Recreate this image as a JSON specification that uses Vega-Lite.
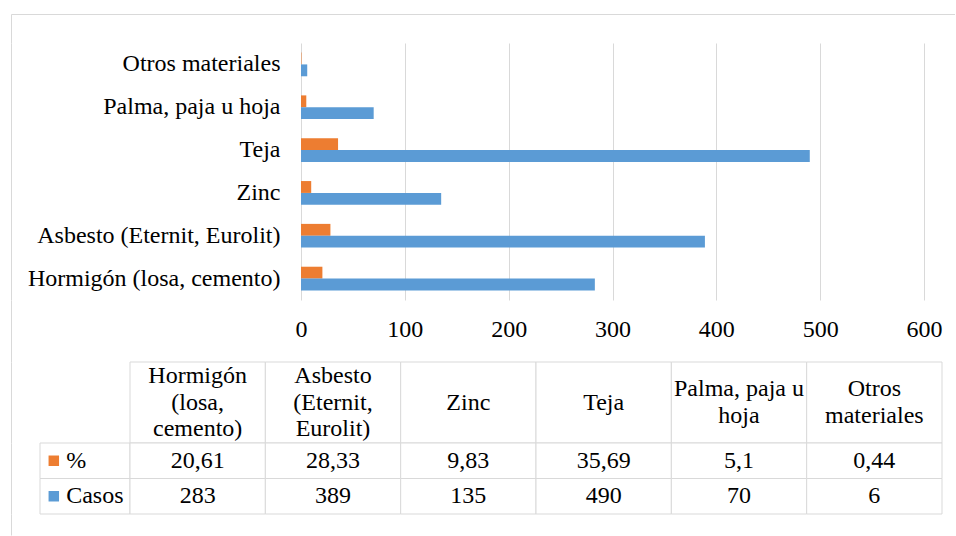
{
  "$schema": "https://vega.github.io/schema/vega-lite/v6.json",
  "padding": {"left": 8, "top": 14, "right": 0, "bottom": 0},
  "background": "white",
  "config": {
    "view": {"stroke": null},
    "locale": {"number": {"decimal": ",", "thousands": ".", "grouping": [3], "currency": ["", " €"]}},
    "axis": {"labelFont": "Liberation Serif, Times New Roman, serif", "labelFontSize": 24, "labelColor": "#000000", "domainColor": "#d9d9d9", "domainWidth": 1, "gridColor": "#d9d9d9", "gridWidth": 1},
    "text": {"font": "Liberation Serif, Times New Roman, serif", "fontSize": 24, "color": "#000000"}
  },
  "datasets": {
    "materiales": [
      {"material": "Hormigón (losa, cemento)", "encabezado": ["Hormigón", "(losa,", "cemento)"], "%": 20.61, "Casos": 283},
      {"material": "Asbesto (Eternit, Eurolit)", "encabezado": ["Asbesto", "(Eternit,", "Eurolit)"], "%": 28.33, "Casos": 389},
      {"material": "Zinc", "encabezado": ["Zinc"], "%": 9.83, "Casos": 135},
      {"material": "Teja", "encabezado": ["Teja"], "%": 35.69, "Casos": 490},
      {"material": "Palma, paja u hoja", "encabezado": ["Palma, paja u", "hoja"], "%": 5.1, "Casos": 70},
      {"material": "Otros materiales", "encabezado": ["Otros", "materiales"], "%": 0.44, "Casos": 6}
    ]
  },
  "bounds": "flush",
  "spacing": 0,
  "vconcat": [
    {
      "width": 944, "height": 29,
      "data": {"values": [{}]},
      "mark": {"type": "point", "opacity": 0},
      "encoding": {
        "x": {"datum": 0, "type": "quantitative", "scale": {"domain": [0, 1]}, "axis": {"orient": "top", "title": null, "labels": false, "ticks": false, "grid": false, "domain": true}},
        "y": {"datum": 0, "type": "quantitative", "scale": {"domain": [0, 1]}, "axis": {"orient": "left", "title": null, "labels": false, "ticks": false, "grid": false, "domain": true}}
      }
    },
    {
      "width": 944, "height": 257,
      "data": {"name": "materiales"},
      "transform": [{"fold": ["%", "Casos"], "as": ["serie", "valor"]}],
      "mark": {"type": "bar"},
      "encoding": {
        "y": {
          "field": "material", "type": "nominal",
          "sort": ["Otros materiales", "Palma, paja u hoja", "Teja", "Zinc", "Asbesto (Eternit, Eurolit)", "Hormigón (losa, cemento)"],
          "scale": {"paddingInner": 0.446, "paddingOuter": 0.223},
          "axis": {"orient": "left", "title": null, "ticks": false, "tickSize": 0, "domain": true, "grid": false, "labelAlign": "right", "labelPadding": -269, "labelLimit": 500}
        },
        "yOffset": {"field": "serie", "type": "nominal", "sort": ["%", "Casos"]},
        "x": {
          "field": "valor", "type": "quantitative",
          "scale": {"domain": [0, 600], "nice": false, "range": [290, 913]},
          "axis": {"title": null, "values": [0, 100, 200, 300, 400, 500, 600], "grid": true, "domain": false, "ticks": false, "tickSize": 0, "labelPadding": 17, "labelFlush": false, "labelOverlap": false}
        },
        "color": {"field": "serie", "type": "nominal", "scale": {"domain": ["%", "Casos"], "range": ["#ed7d31", "#5b9bd5"]}, "legend": null}
      }
    },
    {
      "width": 944, "height": 62,
      "data": {"values": [{}]},
      "mark": {"type": "point", "opacity": 0},
      "encoding": {
        "y": {"datum": 0, "type": "quantitative", "scale": {"domain": [0, 1]}, "axis": {"orient": "left", "title": null, "labels": false, "ticks": false, "grid": false, "domain": true}}
      }
    },
    {
      "width": 944, "height": 81,
      "data": {"name": "materiales"},
      "encoding": {
        "x": {"field": "material", "type": "nominal", "sort": null, "scale": {"range": [119, 931], "paddingInner": 0, "paddingOuter": 0}, "axis": null},
        "y": {"datum": "encabezado", "type": "nominal", "scale": {"domain": ["encabezado"], "paddingInner": 0, "paddingOuter": 0}, "axis": {"orient": "left", "title": null, "labels": false, "ticks": false, "grid": false, "domain": true}}
      },
      "layer": [
        {"mark": {"type": "rect", "fill": "white", "stroke": "#d9d9d9", "strokeWidth": 1}},
        {"transform": [{"filter": "length(datum.encabezado) == 3"}], "mark": {"type": "text", "baseline": "middle", "lineHeight": 26.5, "dy": -26.5}, "encoding": {"text": {"field": "encabezado", "type": "nominal"}}},
        {"transform": [{"filter": "length(datum.encabezado) == 2"}], "mark": {"type": "text", "baseline": "middle", "lineHeight": 26.5, "dy": -13.25}, "encoding": {"text": {"field": "encabezado", "type": "nominal"}}},
        {"transform": [{"filter": "length(datum.encabezado) == 1"}], "mark": {"type": "text", "baseline": "middle", "lineHeight": 26.5}, "encoding": {"text": {"field": "encabezado", "type": "nominal"}}}
      ]
    },
    {
      "width": 944, "height": 71,
      "encoding": {
        "y": {"field": "serie", "type": "nominal", "sort": ["%", "Casos"], "scale": {"paddingInner": 0, "paddingOuter": 0},
              "axis": {"orient": "left", "title": null, "ticks": false, "tickSize": 0, "grid": false, "domain": true, "labelAlign": "left", "labelPadding": -54.7}}
      },
      "layer": [
        {
          "data": {"name": "materiales"},
          "transform": [{"fold": ["%", "Casos"], "as": ["serie", "valor"]}, {"aggregate": [{"op": "count", "as": "n"}], "groupby": ["serie"]}],
          "mark": {"type": "rect", "fill": "white", "stroke": "#d9d9d9", "strokeWidth": 1},
          "encoding": {"x": {"datum": "leyenda", "type": "nominal", "scale": {"domain": ["leyenda"], "range": [29, 119], "paddingInner": 0, "paddingOuter": 0}, "axis": null}}
        },
        {
          "data": {"name": "materiales"},
          "transform": [{"fold": ["%", "Casos"], "as": ["serie", "valor"]}, {"aggregate": [{"op": "count", "as": "n"}], "groupby": ["serie"]}],
          "mark": {"type": "point", "shape": "square", "filled": true, "size": 110, "opacity": 1, "xOffset": -31.2},
          "encoding": {
            "x": {"datum": "leyenda", "type": "nominal", "scale": {"domain": ["leyenda"], "range": [29, 119], "paddingInner": 0, "paddingOuter": 0}, "axis": null},
            "color": {"field": "serie", "type": "nominal", "scale": {"domain": ["%", "Casos"], "range": ["#ed7d31", "#5b9bd5"]}, "legend": null}
          }
        },
        {
          "data": {"name": "materiales"},
          "transform": [{"fold": ["%", "Casos"], "as": ["serie", "valor"]}],
          "mark": {"type": "rect", "fill": "white", "stroke": "#d9d9d9", "strokeWidth": 1},
          "encoding": {"x": {"field": "material", "type": "nominal", "sort": null, "scale": {"range": [119, 931], "paddingInner": 0, "paddingOuter": 0}, "axis": null}}
        },
        {
          "data": {"name": "materiales"},
          "transform": [{"fold": ["%", "Casos"], "as": ["serie", "valor"]}],
          "mark": {"type": "text", "baseline": "middle"},
          "encoding": {
            "x": {"field": "material", "type": "nominal", "sort": null, "scale": {"range": [119, 931], "paddingInner": 0, "paddingOuter": 0}, "axis": null},
            "text": {"field": "valor", "type": "quantitative", "format": ".2~f"}
          }
        }
      ],
      "resolve": {"scale": {"x": "independent"}}
    },
    {
      "width": 944, "height": 21,
      "data": {"values": [{}]},
      "mark": {"type": "point", "opacity": 0},
      "encoding": {
        "y": {"datum": 0, "type": "quantitative", "scale": {"domain": [0, 1]}, "axis": {"orient": "left", "title": null, "labels": false, "ticks": false, "grid": false, "domain": true}}
      }
    }
  ]
}
